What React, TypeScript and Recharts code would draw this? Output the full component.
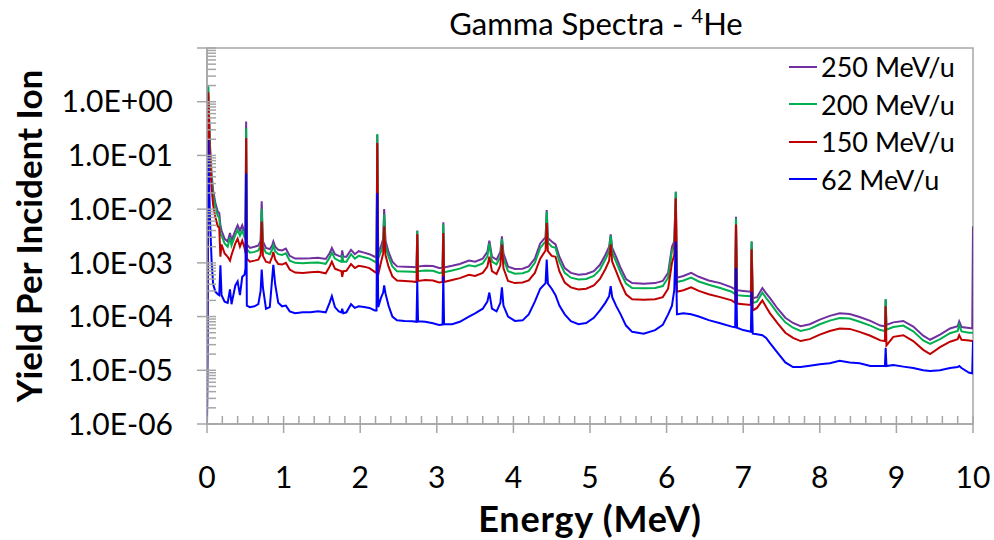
import React from 'react';
import { LineChart, Line, XAxis, YAxis, Legend, ReferenceArea } from 'recharts';

// Gamma yield spectra for 4He beams at four energies (yield per incident ion vs photon energy).
const energyMeV = [
  0, 0.015, 0.04, 0.06, 0.08, 0.11, 0.14, 0.16, 0.175, 0.19, 0.23, 0.27, 0.3, 0.32, 0.37, 0.4, 0.43, 0.46, 0.49, 0.503, 0.511, 0.52,
  0.56, 0.62, 0.67, 0.7, 0.714, 0.73, 0.77, 0.82, 0.85, 0.866, 0.89, 0.93, 0.98, 1.03, 1.08, 1.15, 1.25, 1.35, 1.45, 1.55, 1.6, 1.63, 1.67, 1.72, 1.755, 1.765, 1.78, 1.82, 1.88, 1.93, 1.98, 2.05, 2.12, 2.19, 2.213, 2.223, 2.235,
  2.27, 2.3, 2.313, 2.33, 2.37, 2.42, 2.48, 2.58, 2.68, 2.735, 2.745, 2.755, 2.85, 2.95, 3.03, 3.075, 3.085, 3.095, 3.2, 3.3, 3.42, 3.5, 3.6, 3.66, 3.686, 3.72, 3.78, 3.83, 3.85, 3.87, 3.93,
  4.02, 4.12, 4.2, 4.28, 4.35, 4.42, 4.435, 4.45, 4.5, 4.55, 4.6, 4.67, 4.75, 4.85, 4.95, 5.05, 5.13, 5.2, 5.25, 5.27, 5.29, 5.34, 5.4, 5.47, 5.55, 5.7, 5.85, 5.95, 6.02, 6.07, 6.1, 6.12, 6.135,
  6.22, 6.32, 6.42, 6.55, 6.7, 6.85, 6.895, 6.906, 6.92, 7.0, 7.1, 7.11, 7.125, 7.18, 7.25, 7.3, 7.35, 7.45, 7.55, 7.65, 7.75, 7.87, 8.0, 8.13, 8.26, 8.39, 8.52, 8.66, 8.79, 8.85, 8.86, 8.87, 8.96, 9.09, 9.22, 9.35, 9.44, 9.57, 9.7, 9.8, 9.82, 9.85, 9.95, 9.99, 10,
];

const yield250 = [
  1e-6, 1.9, 0.15, 0.045, 0.022, 0.013, 9e-3, 8.5e-3, 5.0e-3, 4.0e-3, 2.8e-3, 2.5e-3, 3.6e-3, 2.6e-3, 4.0e-3, 5.0e-3, 4.0e-3, 5.0e-3, 3.8e-3, 3.5e-3, 0.43, 2.2e-3,
  1.9e-3, 2.0e-3, 2.1e-3, 2.6e-3, 1.4e-2, 2.5e-3, 1.9e-3, 1.8e-3, 2.1e-3, 2.5e-3, 2.0e-3, 1.75e-3, 1.7e-3, 1.85e-3, 1.35e-3, 1.2e-3, 1.2e-3, 1.22e-3, 1.25e-3, 1.18e-3, 1.5e-3, 1.9e-3, 1.45e-3, 1.35e-3, 1.3e-3, 1.7e-3, 1.3e-3, 1.3e-3, 1.75e-3, 1.45e-3, 1.65e-3, 1.55e-3, 1.45e-3, 1.3e-3, 1.25e-3, 0.24, 1.5e-3,
  2.0e-3, 2.8e-3, 1.0e-2, 2.6e-3, 1.6e-3, 1.05e-3, 8.6e-4, 8.5e-4, 8.4e-4, 8.3e-4, 4.0e-3, 8.6e-4, 8.8e-4, 8.7e-4, 8.0e-4, 8.1e-4, 5.7e-3, 8.2e-4, 8.8e-4, 9.5e-4, 1.1e-3, 1.05e-3, 1.2e-3, 1.6e-3, 2.6e-3, 1.3e-3, 1.15e-3, 1.6e-3, 3.1e-3, 1.5e-3, 8.5e-4,
  7.7e-4, 7.8e-4, 8.6e-4, 1.2e-3, 2.3e-3, 3.0e-3, 9.6e-3, 2.9e-3, 2.5e-3, 2.2e-3, 1.3e-3, 8.0e-4, 6.5e-4, 6.0e-4, 6.2e-4, 7.0e-4, 9.2e-4, 1.4e-3, 2.0e-3, 3.4e-3, 1.9e-3, 1.3e-3, 8.0e-4, 5.0e-4, 4.2e-4, 4.1e-4, 4.2e-4, 4.6e-4, 6.5e-4, 2.0e-3, 2.5e-3, 2.1e-2, 5.3e-4,
  5.7e-4, 6.5e-4, 5.5e-4, 4.7e-4, 4.2e-4, 3.5e-4, 3.2e-4, 7.2e-3, 3.1e-4, 3.0e-4, 2.9e-4, 2.5e-3, 2.2e-4, 2.3e-4, 3.4e-4, 2.7e-4, 2.2e-4, 1.4e-4, 9.5e-5, 7.6e-5, 6.6e-5, 7.2e-5, 8.8e-5, 1.03e-4, 1.15e-4, 1.12e-4, 9.8e-5, 8.3e-5, 6.8e-5, 6.6e-5, 2.1e-4, 7.0e-5, 7.8e-5, 8.3e-5, 6.5e-5, 4.4e-5, 3.7e-5, 4.6e-5, 6.0e-5, 6.6e-5, 8.1e-5, 6.4e-5, 6.1e-5, 6.0e-5, 4.8e-3,
];

const yield200 = [
  1e-6, 2.0, 0.12, 0.035, 0.018, 0.011, 7.5e-3, 7.0e-3, 3.5e-3, 3.2e-3, 2.3e-3, 2.0e-3, 3.0e-3, 2.1e-3, 3.3e-3, 4.1e-3, 3.2e-3, 4.0e-3, 3.0e-3, 2.8e-3, 0.32, 1.8e-3,
  1.55e-3, 1.6e-3, 1.7e-3, 2.1e-3, 1.0e-2, 2.0e-3, 1.55e-3, 1.45e-3, 1.75e-3, 2.1e-3, 1.65e-3, 1.45e-3, 1.4e-3, 1.5e-3, 1.1e-3, 1.0e-3, 9.8e-4, 1.0e-3, 1.02e-3, 9.6e-4, 1.25e-3, 1.55e-3, 1.2e-3, 1.1e-3, 1.05e-3, 1.4e-3, 1.05e-3, 1.05e-3, 1.45e-3, 1.2e-3, 1.35e-3, 1.27e-3, 1.2e-3, 1.05e-3, 1.0e-3, 0.25, 1.2e-3,
  1.6e-3, 2.3e-3, 8.0e-3, 2.1e-3, 1.3e-3, 8.6e-4, 7.0e-4, 6.9e-4, 6.8e-4, 6.7e-4, 3.9e-3, 7.0e-4, 7.2e-4, 7.1e-4, 6.5e-4, 6.6e-4, 5.2e-3, 6.7e-4, 7.2e-4, 7.8e-4, 9.0e-4, 8.6e-4, 9.8e-4, 1.3e-3, 2.3e-3, 1.05e-3, 9.4e-4, 1.3e-3, 2.8e-3, 1.2e-3, 7.0e-4,
  6.3e-4, 6.4e-4, 7.0e-4, 1.0e-3, 1.9e-3, 2.5e-3, 9.0e-3, 2.4e-3, 2.0e-3, 1.9e-3, 1.05e-3, 6.5e-4, 5.3e-4, 4.9e-4, 5.0e-4, 5.7e-4, 7.5e-4, 1.15e-3, 1.65e-3, 3.2e-3, 1.55e-3, 1.05e-3, 6.5e-4, 4.1e-4, 3.4e-4, 3.35e-4, 3.4e-4, 3.7e-4, 5.3e-4, 1.65e-3, 2.1e-3, 2.1e-2, 4.4e-4,
  4.7e-4, 5.3e-4, 4.5e-4, 3.9e-4, 3.4e-4, 2.9e-4, 2.6e-4, 6.8e-3, 2.5e-4, 2.45e-4, 2.4e-4, 2.5e-3, 1.8e-4, 1.9e-4, 2.8e-4, 2.2e-4, 1.8e-4, 1.15e-4, 7.8e-5, 6.2e-5, 5.4e-5, 5.9e-5, 7.2e-5, 8.4e-5, 9.4e-5, 9.2e-5, 8.0e-5, 6.8e-5, 5.6e-5, 5.4e-5, 2.1e-4, 5.7e-5, 6.4e-5, 6.8e-5, 5.3e-5, 3.6e-5, 3.1e-5, 3.8e-5, 4.9e-5, 5.4e-5, 7.0e-5, 5.3e-5, 5.0e-5, 5.0e-5, 5.0e-5,
];

const yield150 = [
  1e-6, 1.5, 0.08, 0.025, 0.012, 7e-3, 4.8e-3, 4.5e-3, 1.3e-3, 2.2e-3, 1.5e-3, 1.3e-3, 1.1e-3, 1.4e-3, 2.3e-3, 2.8e-3, 2.0e-3, 2.6e-3, 1.9e-3, 1.5e-3, 0.21, 1.2e-3,
  1.05e-3, 1.1e-3, 1.15e-3, 1.4e-3, 5.9e-3, 1.35e-3, 1.05e-3, 1.0e-3, 1.3e-3, 1.6e-3, 1.15e-3, 9.5e-4, 9.3e-4, 1.0e-3, 7.5e-4, 6.6e-4, 6.5e-4, 6.7e-4, 6.8e-4, 6.4e-4, 8.5e-4, 1.05e-3, 7.8e-4, 7.3e-4, 7.0e-4, 5.5e-4, 7.0e-4, 7.1e-4, 9.5e-4, 8.0e-4, 8.8e-4, 8.5e-4, 8.0e-4, 6.8e-4, 6.5e-4, 0.17, 6.0e-4,
  1.0e-3, 1.5e-3, 4.8e-3, 1.4e-3, 8.5e-4, 5.6e-4, 4.7e-4, 4.6e-4, 4.5e-4, 4.4e-4, 3.4e-3, 4.6e-4, 4.8e-4, 4.7e-4, 4.3e-4, 4.4e-4, 3.6e-3, 4.4e-4, 4.8e-4, 5.2e-4, 6.0e-4, 5.7e-4, 6.5e-4, 8.5e-4, 1.3e-3, 7.0e-4, 6.2e-4, 9.0e-4, 2.2e-3, 8.0e-4, 4.6e-4,
  4.2e-4, 4.3e-4, 4.7e-4, 6.5e-4, 1.2e-3, 1.7e-3, 5.5e-3, 1.65e-3, 1.35e-3, 1.3e-3, 7.0e-4, 4.3e-4, 3.5e-4, 3.2e-4, 3.3e-4, 3.8e-4, 5.0e-4, 7.6e-4, 1.1e-3, 2.2e-3, 1.05e-3, 7.0e-4, 4.3e-4, 2.6e-4, 2.1e-4, 2.05e-4, 2.1e-4, 2.3e-4, 3.3e-4, 1.0e-3, 1.4e-3, 1.6e-2, 2.9e-4,
  3.1e-4, 3.5e-4, 3.0e-4, 2.6e-4, 2.3e-4, 2.0e-4, 1.8e-4, 5.2e-3, 1.75e-4, 1.7e-4, 1.65e-4, 1.8e-3, 1.3e-4, 1.45e-4, 2.0e-4, 1.5e-4, 1.15e-4, 7.5e-5, 5.0e-5, 4.0e-5, 3.5e-5, 3.8e-5, 4.6e-5, 5.4e-5, 6.0e-5, 5.9e-5, 5.2e-5, 4.4e-5, 3.6e-5, 3.5e-5, 1.55e-4, 2.9e-5, 4.2e-5, 4.5e-5, 3.5e-5, 2.4e-5, 2.0e-5, 2.7e-5, 3.4e-5, 3.8e-5, 4.5e-5, 3.7e-5, 3.6e-5, 3.5e-5, 3.5e-5,
];

const yield62 = [
  1e-6, 0.2, 6e-3, 1.1e-3, 4e-4, 2.9e-4, 2.6e-4, 2.5e-4, 9.0e-4, 2.5e-4, 1.9e-4, 1.8e-4, 3.2e-4, 1.7e-4, 3.8e-4, 4.5e-4, 2.5e-4, 5.5e-4, 6e-4, 8e-4, 0.046, 1.6e-4,
  1.5e-4, 1.55e-4, 1.7e-4, 3.0e-4, 7.5e-4, 3.5e-4, 1.4e-4, 1.5e-4, 5.0e-4, 9.2e-4, 4.0e-4, 1.8e-4, 1.55e-4, 1.6e-4, 1.25e-4, 1.15e-4, 1.2e-4, 1.2e-4, 1.25e-4, 1.2e-4, 1.8e-4, 2.4e-4, 1.5e-4, 1.25e-4, 1.2e-4, 1.4e-4, 1.15e-4, 1.2e-4, 1.7e-4, 1.45e-4, 1.55e-4, 1.5e-4, 1.45e-4, 1.3e-4, 1.3e-4, 0.02, 1.5e-4,
  2.2e-4, 2.8e-4, 3.8e-4, 2.7e-4, 1.6e-4, 1.0e-4, 8.5e-5, 8.3e-5, 8.2e-5, 8.0e-5, 4.5e-4, 8.2e-5, 8.0e-5, 7.5e-5, 7.0e-5, 7.1e-5, 5.6e-4, 7.2e-5, 7.2e-5, 8.0e-5, 1.0e-4, 1.15e-4, 1.4e-4, 1.9e-4, 2.8e-4, 1.4e-4, 1.25e-4, 1.8e-4, 3.5e-4, 1.6e-4, 1.0e-4,
  8.3e-5, 8.5e-5, 1.1e-4, 1.9e-4, 3.3e-4, 4.2e-4, 1.15e-3, 4.1e-4, 3.3e-4, 2.5e-4, 1.6e-4, 1.1e-4, 8.2e-5, 7.2e-5, 7.6e-5, 9.5e-5, 1.3e-4, 1.8e-4, 2.4e-4, 3.7e-4, 2.3e-4, 1.6e-4, 1.1e-4, 6.8e-5, 5.2e-5, 4.8e-5, 5.6e-5, 7.0e-5, 1.1e-4, 1.6e-4, 3.1e-4, 2.5e-3, 1.1e-4,
  1.15e-4, 1.1e-4, 1.0e-4, 8.6e-5, 7.5e-5, 6.5e-5, 6.3e-5, 8.0e-4, 6.2e-5, 5.6e-5, 5.2e-5, 2.9e-4, 4.8e-5, 4.7e-5, 4.5e-5, 4.0e-5, 3.2e-5, 2.1e-5, 1.4e-5, 1.15e-5, 1.15e-5, 1.22e-5, 1.3e-5, 1.35e-5, 1.5e-5, 1.4e-5, 1.35e-5, 1.2e-5, 1.2e-5, 1.2e-5, 2.6e-5, 1.2e-5, 1.25e-5, 1.17e-5, 1.1e-5, 1.0e-5, 9.7e-6, 1.0e-5, 1.1e-5, 1.15e-5, 1.2e-5, 1.1e-5, 9.0e-6, 8.8e-6, 3.5e-5,
];

const seriesKeys = ['y250', 'y200', 'y150', 'y62'];
const seriesNames = ['250 MeV/u', '200 MeV/u', '150 MeV/u', '62 MeV/u'];
const seriesColors = ['#7030A0', '#00B050', '#C00000', '#0000FF'];

const xTicks = [0, 1, 2, 3, 4, 5, 6, 7, 8, 9, 10];
const xTickLabels = ['0', '1', '2', '3', '4', '5', '6', '7', '8', '9', '10'];
const yTicks = [1e-6, 1e-5, 1e-4, 1e-3, 1e-2, 1e-1, 1];
const yTickLabels = ['1.0E-06', '1.0E-05', '1.0E-04', '1.0E-03', '1.0E-02', '1.0E-01', '1.0E+00'];

const chartTitle = 'Gamma Spectra - ';
const titleIsotopeMass = '4';
const titleIsotope = 'He';
const xTitle = 'Energy (MeV)';
const yTitle = 'Yield Per Incident Ion';

const rows = energyMeV.map((e, i) => ({
  e,
  y250: yield250[i],
  y200: yield200[i],
  y150: yield150[i],
  y62: yield62[i],
}));

// tick positions including minor ones: every 0.2 MeV, and 1..9 per decade
const allXTicks = Array.from({ length: 51 }, (_, i) => Math.round(i * 2) / 10);
const allYTicks: number[] = [];
for (let k = -6; k <= 0; k++) {
  for (let m = 1; m <= 9; m++) allYTicks.push(m * Math.pow(10, k));
}
allYTicks.push(10);

const FONT = 'Lato, "Open Sans", "DejaVu Sans", sans-serif';
const AXIS = '#a6a6a6';

// geometry of the tick marks
const X_TICK_OUT = 9;
const X_TICK_IN = 8;
const X_TICK_MARGIN = 34;
const Y_TICK_OUT = 10;
const Y_TICK_IN = 9;
const Y_TICK_MARGIN = 24;

const XTick = (props: any) => {
  const { x, y, payload } = props;
  const v: number = payload.value;
  const axisY = y - X_TICK_MARGIN - X_TICK_OUT;
  const idx = xTicks.findIndex((t) => Math.abs(t - v) < 1e-9);
  const major = idx >= 0;
  return (
    <g>
      <line
        x1={x}
        x2={x}
        y1={axisY - X_TICK_IN}
        y2={major ? axisY + X_TICK_OUT : axisY}
        stroke={AXIS}
        strokeWidth={1.5}
      />
      {major && (
        <text x={x} y={y} dy="0.71em" textAnchor="middle" fontFamily={FONT} fontSize={30} fill="#000">
          {xTickLabels[idx]}
        </text>
      )}
    </g>
  );
};

const YTick = (props: any) => {
  const { x, y, payload } = props;
  const v: number = payload.value;
  const axisX = x + Y_TICK_MARGIN + Y_TICK_OUT;
  const lg = Math.log10(v);
  const major = Math.abs(lg - Math.round(lg)) < 1e-6;
  const idx = major ? yTicks.findIndex((t) => Math.abs(Math.log10(t) - lg) < 1e-6) : -1;
  return (
    <g>
      <line
        x1={major ? axisX - Y_TICK_OUT : axisX}
        x2={axisX + Y_TICK_IN}
        y1={y}
        y2={y}
        stroke={AXIS}
        strokeWidth={1.5}
      />
      {idx >= 0 && (
        <text x={x} y={y} dy="0.355em" textAnchor="end" fontFamily={FONT} fontSize={30} fill="#000">
          {yTickLabels[idx]}
        </text>
      )}
    </g>
  );
};

const renderXTitle = (props: any) => {
  const vb = props.viewBox || {};
  return (
    <text
      x={vb.x + vb.width / 2}
      y={vb.y + 108}
      textAnchor="middle"
      fontFamily={FONT}
      fontWeight={700}
      fontSize={36}
      letterSpacing={0.8}
      fill="#000"
    >
      {xTitle}
    </text>
  );
};

const renderYTitle = (props: any) => {
  const vb = props.viewBox || {};
  const x = vb.x + 42;
  const y = vb.y + vb.height / 2;
  return (
    <text
      x={x}
      y={y}
      transform={`rotate(-90, ${x}, ${y})`}
      textAnchor="middle"
      fontFamily={FONT}
      fontWeight={700}
      fontSize={35}
      fill="#000"
    >
      {yTitle}
    </text>
  );
};

const renderLegend = (props: any) => {
  const payload: any[] = props.payload || [];
  const items = seriesNames
    .map((name) => payload.find((p) => p.value === name))
    .filter(Boolean);
  return (
    <div style={{ fontFamily: FONT }}>
      {items.map((item: any) => (
        <div
          key={item.value}
          style={{ display: 'flex', alignItems: 'center', height: 37.5 }}
        >
          <svg width={28} height={4} style={{ display: 'block' }}>
            <line x1={0} y1={2} x2={28} y2={2} stroke={item.color} strokeWidth={2} />
          </svg>
          <span style={{ marginLeft: 4, fontSize: 27, lineHeight: '37.5px', color: '#000' }}>
            {item.value}
          </span>
        </div>
      ))}
    </div>
  );
};

export default function App() {
  return (
    <div style={{ position: 'absolute', left: 0, top: 0, width: 994, height: 540, background: '#fff' }}>
      <LineChart
        width={994}
        height={540}
        data={rows}
        margin={{ top: 48, right: 21, bottom: 0, left: 0 }}
      >
        <XAxis
          type="number"
          dataKey="e"
          domain={[0, 10]}
          allowDataOverflow
          ticks={allXTicks}
          interval={0}
          height={116}
          tickSize={X_TICK_OUT}
          tickMargin={X_TICK_MARGIN}
          axisLine={{ stroke: AXIS, strokeWidth: 1.5 }}
          tickLine={{ stroke: 'transparent' }}
          tick={XTick}
          label={{ content: renderXTitle }}
        />
        <YAxis
          scale="log"
          domain={[1e-6, 10]}
          allowDataOverflow
          ticks={allYTicks}
          interval={0}
          width={207}
          tickSize={Y_TICK_OUT}
          tickMargin={Y_TICK_MARGIN}
          axisLine={{ stroke: AXIS, strokeWidth: 1.5 }}
          tickLine={{ stroke: 'transparent' }}
          tick={YTick}
          label={{ content: renderYTitle }}
        />
        <ReferenceArea
          x1={0}
          x2={10}
          y1={1e-6}
          y2={10}
          fill="none"
          stroke={AXIS}
          strokeWidth={1.5}
          ifOverflow="visible"
        />
        {seriesKeys.map((key, i) => (
          <Line
            key={key}
            type="linear"
            dataKey={key}
            name={seriesNames[i]}
            stroke={seriesColors[i]}
            strokeWidth={2}
            dot={false}
            activeDot={false}
            isAnimationActive={false}
          />
        ))}
        <Legend
          layout="horizontal"
          verticalAlign="middle"
          align="center"
          wrapperStyle={{ left: 789, top: 48, width: 190 }}
          content={renderLegend}
        />
      </LineChart>
      <svg
        width={994}
        height={540}
        style={{ position: 'absolute', left: 0, top: 0, pointerEvents: 'none' }}
      >
        <text x={596} y={35} textAnchor="middle" fontFamily={FONT} fontSize={31} fill="#000">
          {chartTitle}
          <tspan dy={-12} fontSize={20}>{titleIsotopeMass}</tspan>
          <tspan dy={12}>{titleIsotope}</tspan>
        </text>
      </svg>
    </div>
  );
}
